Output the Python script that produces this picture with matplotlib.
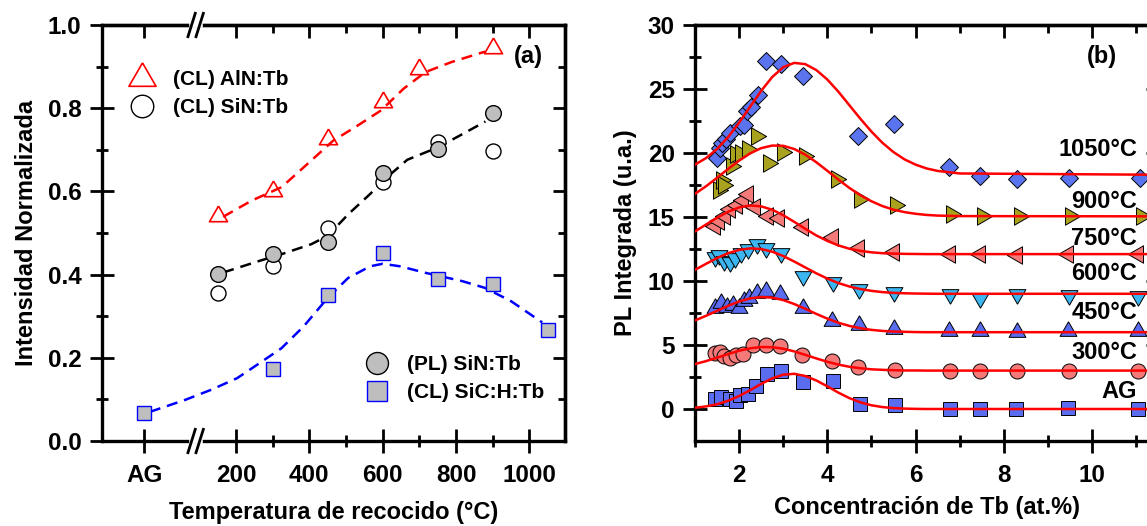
import matplotlib
matplotlib.use("Agg")
import matplotlib.pyplot as plt
from matplotlib.ticker import FixedLocator, FormatStrFormatter

plt.rcParams['font.family'] = ['Liberation Sans', 'DejaVu Sans']
plt.rcParams['font.weight'] = 'bold'
plt.rcParams['axes.labelweight'] = 'bold'
plt.rcParams['lines.scale_dashes'] = False

# ---------------- (a) Intensidad normalizada vs temperatura ----------------
AG_POS = -50      # posicion de la muestra sin recocer
BREAK_POS = 90    # corte del eje x

aln_cl_T = [150, 300, 450, 600, 700, 900]
aln_cl_I = [0.54, 0.60, 0.725, 0.815, 0.895, 0.945]

sin_cl_T = [150, 300, 450, 600, 750, 900]
sin_cl_I = [0.355, 0.42, 0.512, 0.623, 0.718, 0.697]

sin_pl_T = [150, 300, 450, 600, 750, 900]
sin_pl_I = [0.402, 0.449, 0.479, 0.644, 0.701, 0.789]

sic_cl_T = [AG_POS, 300, 450, 600, 750, 900, 1050]
sic_cl_I = [0.067, 0.174, 0.351, 0.453, 0.389, 0.377, 0.268]

# curvas guia (trazo discontinuo)
aln_guide_T = [165, 243, 324, 405, 465, 526, 596, 657, 717, 788, 879]
aln_guide_I = [0.539, 0.578, 0.61, 0.674, 0.722, 0.755, 0.795, 0.847, 0.887, 0.911, 0.936]
sin_guide_T = [165, 264, 324, 405, 450, 506, 566, 600, 667, 751, 818, 880]
sin_guide_I = [0.405, 0.433, 0.449, 0.473, 0.493, 0.545, 0.594, 0.625, 0.676, 0.706, 0.738, 0.768]
sic_guide_T = [-35, 62, 132, 203, 264, 324, 385, 450, 506, 566, 600, 647, 718, 818, 879, 950, 1035]
sic_guide_I = [0.07, 0.099, 0.123, 0.151, 0.187, 0.223, 0.276, 0.344, 0.392, 0.42, 0.426,
               0.42, 0.404, 0.384, 0.368, 0.336, 0.285]

xticks_a = [AG_POS, 200, 400, 600, 800, 1000]
xticklabels_a = ['AG', '200', '400', '600', '800', '1000']
xminor_a = [300, 500, 700, 900]

# ---------------- (b) PL integrada vs concentracion de Tb ----------------
ag_x = [1.45, 1.6, 1.8, 1.92, 2.02, 2.2, 2.38, 2.64, 2.96, 3.44, 4.12, 4.73, 5.53, 6.77, 7.47, 8.28, 9.45, 11.05]
ag_y = [0.78, 0.9, 0.75, 0.65, 1.1, 1.2, 1.78, 2.7, 2.95, 2.14, 2.22, 0.39, 0.31, -0.03, 0.0, 0.0, 0.08, 0.02]

t300_x = [1.45, 1.56, 1.65, 1.79, 1.94, 2.09, 2.32, 2.62, 2.93, 3.43, 4.11, 4.7, 5.53, 6.78, 7.47, 8.29, 9.47, 11.05]
t300_y = [4.4, 4.45, 4.15, 4.0, 4.2, 4.3, 5.02, 5.03, 4.9, 4.25, 3.75, 3.28, 3.02, 3.0, 3.0, 3.0, 3.0, 3.0]

t450_x = [1.45, 1.6, 1.72, 1.86, 2.0, 2.1, 2.22, 2.4, 2.6, 2.92, 3.44, 4.11, 4.72, 5.5, 6.76, 7.46, 8.29, 9.45, 11.05]
t450_y = [7.9, 8.25, 7.95, 8.1, 7.9, 8.45, 8.7, 9.1, 9.2, 8.95, 7.9, 6.9, 6.6, 6.25, 6.12, 6.12, 6.05, 6.12, 6.12]

t600_x = [1.45, 1.55, 1.65, 1.8, 1.9, 2.05, 2.2, 2.4, 2.62, 2.95, 3.44, 4.12, 4.72, 5.5, 6.77, 7.47, 8.3, 9.47, 11.05]
t600_y = [11.9, 12.0, 11.6, 11.5, 11.8, 12.2, 12.5, 12.9, 12.6, 12.2, 10.4, 9.9, 9.4, 9.15, 8.95, 8.7, 8.95, 8.9, 8.8]

t750_x = [1.45, 1.55, 1.68, 1.8, 1.95, 2.08, 2.2, 2.35, 2.65, 2.9, 3.45, 4.12, 4.72, 5.5, 6.77, 7.45, 8.3, 9.45, 11.05]
t750_y = [14.3, 14.7, 15.1, 15.6, 15.9, 16.3, 16.8, 15.8, 15.1, 14.95, 14.2, 13.4, 12.6, 12.3, 12.1, 12.1, 12.0, 12.1, 12.1]

t900_x = [1.52, 1.58, 1.64, 1.82, 1.9, 2.02, 2.19, 2.39, 2.65, 2.98, 3.46, 4.19, 4.72, 5.53, 6.8, 7.5, 8.35, 9.5, 11.1]
t900_y = [17.1, 17.9, 17.5, 19.0, 19.9, 20.0, 20.3, 21.35, 19.2, 20.1, 19.75, 18.0, 16.4, 15.9, 15.25, 15.1, 15.1, 15.05, 15.05]

t1050_x = [1.5, 1.56, 1.62, 1.7, 1.8, 2.02, 2.1, 2.19, 2.27, 2.42, 2.6, 2.95, 3.45, 4.7, 5.52, 6.76, 7.45, 8.3, 9.48, 11.08]
t1050_y = [19.6, 20.4, 20.8, 21.1, 21.6, 22.1, 22.2, 23.3, 23.6, 24.5, 27.2, 26.95, 25.98, 21.35, 22.3, 18.9, 18.2, 18.0, 18.05, 18.05]

# ajustes (linea roja) muestreados sobre una rejilla comun
fit_x = [1.0, 1.25, 1.5, 1.75, 2.0, 2.25, 2.5, 2.75, 3.0, 3.25, 3.5, 3.75, 4.0, 4.25,
         4.5, 4.75, 5.0, 5.25, 5.5, 5.75, 6.0, 6.25, 6.5, 7.0, 11.5]
fit_ag = [0.10, 0.20, 0.37, 0.64, 1.01, 1.47, 1.96, 2.39, 2.68, 2.75, 2.58, 2.23, 1.77, 1.28,
          0.85, 0.52, 0.29, 0.15, 0.07, 0.03, 0.01, 0.0, 0.0, 0.0, 0.0]
fit_300 = [3.51, 3.74, 4.01, 4.29, 4.55, 4.74, 4.84, 4.83, 4.71, 4.50, 4.23, 3.95, 3.69, 3.47,
           3.30, 3.18, 3.10, 3.06, 3.03, 3.01, 3.01, 3.0, 3.0, 3.0, 3.0]
fit_450 = [6.92, 7.28, 7.67, 8.06, 8.40, 8.64, 8.75, 8.70, 8.51, 8.20, 7.83, 7.43, 7.06, 6.74,
           6.49, 6.31, 6.18, 6.10, 6.05, 6.03, 6.01, 6.0, 6.0, 6.0, 6.0]
fit_600 = [10.87, 11.34, 11.79, 12.17, 12.43, 12.55, 12.50, 12.29, 11.95, 11.52, 11.06, 10.60,
           10.19, 9.84, 9.57, 9.37, 9.23, 9.13, 9.07, 9.04, 9.02, 9.01, 9.0, 9.0, 9.0]
fit_750 = [13.87, 14.41, 14.94, 15.41, 15.75, 15.90, 15.83, 15.57, 15.14, 14.62, 14.08, 13.56,
           13.13, 12.78, 12.52, 12.35, 12.24, 12.17, 12.14, 12.12, 12.11, 12.1, 12.1, 12.1, 12.1]
fit_900 = [16.81, 17.40, 18.06, 18.75, 19.40, 19.97, 20.38, 20.58, 20.56, 20.31, 19.87, 19.28,
           18.61, 17.92, 17.27, 16.70, 16.23, 15.85, 15.57, 15.38, 15.25, 15.16, 15.11, 15.07, 15.05]
fit_1050 = [19.09, 19.60, 20.31, 21.24, 22.37, 23.61, 24.85, 25.93, 26.70, 27.04, 26.94, 26.48,
            25.74, 24.79, 23.73, 22.67, 21.67, 20.79, 20.07, 19.50, 19.09, 18.79, 18.60, 18.40, 18.3]

temp_labels = ['1050°C', '900°C', '750°C', '600°C', '450°C', '300°C', 'AG']
temp_label_y = [20.3, 16.2, 13.3, 10.6, 7.5, 4.4, 1.35]

# marcadores tipo Origin (triangulos equilateros, contorno cerrado)
TRI_UP = [(0, 1), (-0.866, -0.5), (0.866, -0.5), (0, 1)]
TRI_DOWN = [(0, -1), (-0.866, 0.5), (0.866, 0.5), (0, -1)]
TRI_RIGHT = [(1, 0), (-0.5, 0.866), (-0.5, -0.866), (1, 0)]
TRI_LEFT = [(-1, 0), (0.5, 0.866), (0.5, -0.866), (-1, 0)]

SPINE_W = 2.4
TICK_W = 2.0
TICK_FS = 17.5
LABEL_FS = 17


def style_axes(ax, xmajor, xminor, ymajor, yminor):
    for sp in ax.spines.values():
        sp.set_linewidth(SPINE_W)
    ax.xaxis.set_major_locator(FixedLocator(xmajor))
    ax.xaxis.set_minor_locator(FixedLocator(xminor))
    ax.yaxis.set_major_locator(FixedLocator(ymajor))
    ax.yaxis.set_minor_locator(FixedLocator(yminor))
    ax.tick_params(which='major', direction='inout', length=17, width=TICK_W,
                   labelsize=TICK_FS)
    ax.tick_params(axis='x', which='major', pad=8)
    ax.tick_params(axis='y', which='major', pad=6)
    ax.tick_params(which='minor', direction='inout', length=8, width=TICK_W)
    # ejes opuestos con marcas hacia adentro
    top = ax.secondary_xaxis('top')
    top.xaxis.set_major_locator(FixedLocator(xmajor))
    top.xaxis.set_minor_locator(FixedLocator(xminor))
    top.tick_params(which='major', direction='in', length=9, width=TICK_W, labeltop=False)
    top.tick_params(which='minor', direction='in', length=6, width=TICK_W)
    top.spines['top'].set_linewidth(SPINE_W)
    right = ax.secondary_yaxis('right')
    right.yaxis.set_major_locator(FixedLocator(ymajor))
    right.yaxis.set_minor_locator(FixedLocator(yminor))
    right.tick_params(which='major', direction='in', length=9, width=TICK_W, labelright=False)
    right.tick_params(which='minor', direction='in', length=5, width=TICK_W)
    right.spines['right'].set_linewidth(SPINE_W)


def draw_break(ax, xpos):
    trans = ax.get_xaxis_transform()
    for y in (0, 1):
        ax.plot([xpos - 11, xpos + 11], [y, y], color='white', lw=4,
                transform=trans, clip_on=False, zorder=6)
        for dx in (-11, 11):
            ax.plot([xpos + dx - 10, xpos + dx + 10], [y - 0.028, y + 0.028],
                    color='black', lw=2, transform=trans, clip_on=False, zorder=7)


fig = plt.figure(figsize=(11.47, 5.26), dpi=100)
ax_a = fig.add_axes([0.0887, 0.1616, 0.4039, 0.7909])
ax_b = fig.add_axes([0.6059, 0.1616, 0.4039, 0.7909])

# ---- panel (a) ----
dash = (0, (8, 5))
ax_a.plot(aln_guide_T, aln_guide_I, color='red', lw=1.8, ls=dash, zorder=2)
ax_a.plot(sin_guide_T, sin_guide_I, color='black', lw=1.8, ls=dash, zorder=2)
ax_a.plot(sic_guide_T, sic_guide_I, color='blue', lw=1.8, ls=dash, zorder=2)

h_aln, = ax_a.plot(aln_cl_T, aln_cl_I, ls='none', marker=TRI_UP, ms=15, mfc='none',
                   mec='red', mew=1.2, zorder=3)
h_sin_cl, = ax_a.plot(sin_cl_T, sin_cl_I, ls='none', marker='o', ms=10.8, mfc='white',
                      mec='black', mew=1.0, zorder=3)
h_sin_pl, = ax_a.plot(sin_pl_T, sin_pl_I, ls='none', marker='o', ms=11.3, mfc='#BEBEBE',
                      mec='black', mew=1.0, zorder=4)
h_sic, = ax_a.plot(sic_cl_T, sic_cl_I, ls='none', marker='s', ms=10.3, mfc='#BEBEBE',
                   mec='blue', mew=1.0, zorder=4)

ax_a.set_xlim(-166, 1097)
ax_a.set_ylim(0, 1.0)
style_axes(ax_a, xticks_a, xminor_a, [0, 0.2, 0.4, 0.6, 0.8, 1.0], [0.1, 0.3, 0.5, 0.7, 0.9])
ax_a.set_xticklabels(xticklabels_a)
ax_a.yaxis.set_major_formatter(FormatStrFormatter('%.1f'))
draw_break(ax_a, BREAK_POS)

ax_a.set_xlabel('Temperatura de recocido (°C)', fontsize=LABEL_FS, va='center')
ax_a.xaxis.set_label_coords(0.5, -0.172)
ax_a.set_ylabel('Intensidad Normalizada', fontsize=LABEL_FS, va='center')
ax_a.yaxis.set_label_coords(-0.163, 0.5)
ax_a.text(996, 0.924, '(a)', fontsize=LABEL_FS, ha='center', va='center')

leg1 = ax_a.legend([h_aln, h_sin_cl], ['(CL) AlN:Tb', '(CL) SiN:Tb'], loc='upper left',
                   bbox_to_anchor=(0.056, 0.892), frameon=False, fontsize=15,
                   markerscale=1.5, handlelength=1.4, handletextpad=0.79,
                   labelspacing=0.43, borderpad=0, borderaxespad=0)
ax_a.add_artist(leg1)
ax_a.legend([h_sin_pl, h_sic], ['(PL) SiN:Tb', '(CL) SiC:H:Tb'], loc='upper left',
            bbox_to_anchor=(0.563, 0.207), frameon=False, fontsize=15,
            markerscale=1.4, handlelength=1.4, handletextpad=0.71,
            labelspacing=0.45, borderpad=0, borderaxespad=0)

# ---- panel (b) ----
edge = dict(mec='black', mew=0.7, ls='none', zorder=3)
ax_b.plot(ag_x, ag_y, marker='s', ms=9.6, mfc='#5A6CF0', **edge)
ax_b.plot(t300_x, t300_y, marker='o', ms=10.8, mfc='#F47A7A', **edge)
ax_b.plot(t450_x, t450_y, marker=TRI_UP, ms=14, mfc='#5A6CF0', **edge)
ax_b.plot(t600_x, t600_y, marker=TRI_DOWN, ms=14, mfc='#3CB6F2', **edge)
ax_b.plot(t750_x, t750_y, marker=TRI_LEFT, ms=14.5, mfc='#F47A7A', **edge)
ax_b.plot(t900_x, t900_y, marker=TRI_RIGHT, ms=14.5, mfc='#A8A21E', **edge)
ax_b.plot(t1050_x, t1050_y, marker='D', ms=9.3, mfc='#5A74F0', **edge)

for fit in (fit_ag, fit_300, fit_450, fit_600, fit_750, fit_900, fit_1050):
    ax_b.plot(fit_x, fit, color='#FF0000', lw=1.8, zorder=4)

for label, y in zip(temp_labels, temp_label_y):
    ax_b.text(11.02, y, label, fontsize=LABEL_FS, ha='right', va='center', zorder=5)
ax_b.text(10.22, 27.5, '(b)', fontsize=LABEL_FS, ha='center', va='center')

ax_b.set_xlim(1, 11.5)
ax_b.set_ylim(-2.5, 30)
style_axes(ax_b, [2, 4, 6, 8, 10], [1, 3, 5, 7, 9, 11],
           [0, 5, 10, 15, 20, 25, 30], [2.5, 7.5, 12.5, 17.5, 22.5, 27.5])
ax_b.set_xlabel('Concentración de Tb (at.%)', fontsize=LABEL_FS, va='center')
ax_b.xaxis.set_label_coords(0.5, -0.16)
ax_b.set_ylabel('PL Integrada (u.a.)', fontsize=LABEL_FS, va='center')
ax_b.yaxis.set_label_coords(-0.151, 0.5)

fig.savefig('out.png', dpi=100)
